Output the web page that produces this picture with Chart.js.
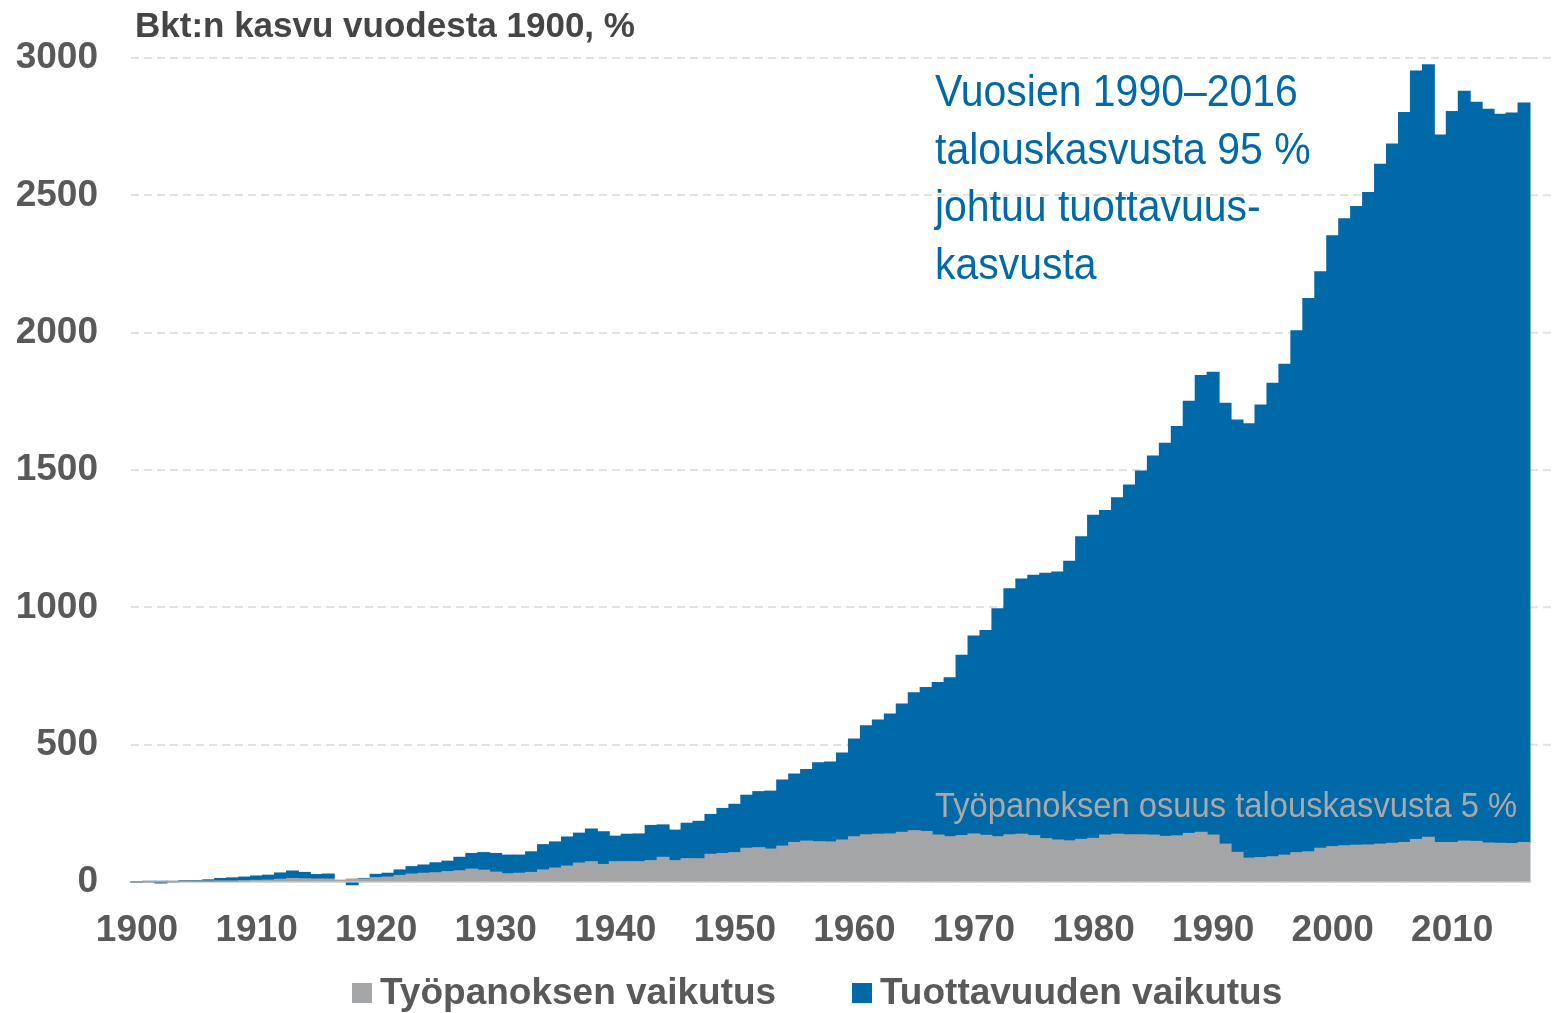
<!DOCTYPE html>
<html lang="fi">
<head>
<meta charset="utf-8">
<title>Bkt:n kasvu vuodesta 1900</title>
<script src="https://cdn.jsdelivr.net/npm/chart.js@4.4.1/dist/chart.umd.min.js"></script>
<style>
  html, body { margin: 0; padding: 0; background: #fff; }
  #wrap { width: 1552px; height: 1013px; }
</style>
</head>
<body>
<div id="wrap"><canvas id="kasvuChart" width="1552" height="1013"></canvas></div>
<script>
// vuodet 1900-2016 (luokat)
const years = [];
for (let y = 1900; y <= 2016; y++) years.push(String(y));

// näytettävät akselitekstit
const xTickLabels = ['1900', '1910', '1920', '1930', '1940', '1950', '1960', '1970', '1980', '1990', '2000', '2010'];
const yTickValues = [0, 500, 1000, 1500, 2000, 2500, 3000];

// työpanoksen vaikutus, %-yks. (luettu kuvasta)
const tyopanos = [
  0, 1, 1, 1, 2, 3, 3, 4, 4, 5,                       // 1900-
  6, 7, 10, 13, 12, 11, 11, 6, 11, 11,                // 1910-
  16, 18, 24, 29, 32, 34, 38, 41, 47, 43,             // 1920-
  36, 30, 32, 35, 44, 51, 58, 69, 74, 64,             // 1930-
  74, 74, 74, 78, 90, 78, 85, 85, 101, 104,           // 1940-
  107, 123, 125, 120, 131, 144, 149, 147, 146, 153,   // 1950-
  165, 172, 174, 175, 181, 187, 184, 171, 165, 169,   // 1960-
  175, 170, 165, 172, 174, 169, 158, 153, 150, 155,   // 1970-
  159, 171, 174, 172, 172, 171, 166, 168, 177, 181,   // 1980-
  171, 138, 108, 87, 89, 92, 98, 107, 110, 123,       // 1990-
  129, 132, 134, 135, 138, 141, 144, 155, 163, 144,   // 2000-
  144, 149, 148, 142, 141, 140, 144                   // 2010-2016
];

// tuottavuuden vaikutus, %-yks.
const tuottavuus = [
  0, 0, -3, 0, 3, 2, 5, 9, 11, 13,
  16, 18, 23, 27, 23, 16, 18, 0, -10, 2,
  12, 14, 20, 27, 30, 36, 38, 49, 57, 64,
  68, 68, 66, 75, 92, 95, 106, 109, 119, 119,
  93, 100, 101, 128, 118, 111, 129, 136, 145, 164,
  176, 193, 204, 211, 240, 249, 261, 287, 291, 317,
  356, 397, 416, 437, 467, 502, 524, 555, 579, 657,
  721, 746, 830, 896, 929, 948, 966, 976, 1018, 1102,
  1176, 1182, 1225, 1273, 1324, 1380, 1431, 1490, 1573, 1663,
  1685, 1605, 1574, 1581, 1648, 1724, 1787, 1900, 2014, 2099,
  2224, 2283, 2325, 2375, 2475, 2546, 2658, 2798, 2812, 2576,
  2661, 2730, 2691, 2671, 2654, 2660, 2692
];

const otsikko = 'Bkt:n kasvu vuodesta 1900, %';
const huomioSininen = ['Vuosien 1990–2016', 'talouskasvusta 95 %', 'johtuu tuottavuus-', 'kasvusta'];
const huomioHarmaa = 'Työpanoksen osuus talouskasvusta 5 %';

const SININEN = '#0069a8';
const HARMAA = '#a4a5a7';
const TEKSTI = '#595959';
const FONTTI = '"Liberation Sans", Arial, sans-serif';

// tekstit, selite ja ruudukon jatke
const tekstit = {
    id: 'tekstit',
    beforeDatasetsDraw(chart) {
        const ctx = chart.ctx;
        const area = chart.chartArea;
        const ys = chart.scales.y;
        ctx.save();
        ctx.strokeStyle = '#e2e2e2';
        ctx.lineWidth = 2;
        ctx.setLineDash([8, 5]);
        yTickValues.forEach(v => {
            if (v === 0) return;
            const py = ys.getPixelForValue(v);
            ctx.beginPath();
            ctx.moveTo(area.right, py);
            ctx.lineTo(chart.width, py);
            ctx.stroke();
        });
        ctx.restore();
    },
    afterDraw(chart) {
        const ctx = chart.ctx;
        ctx.save();
        // otsikko
        ctx.fillStyle = '#454545';
        ctx.font = 'bold 35px ' + FONTTI;
        ctx.textBaseline = 'alphabetic';
        ctx.textAlign = 'left';
        ctx.fillText(otsikko, 135, 37);

        // sininen huomio, kapeampi fontti
        ctx.fillStyle = SININEN;
        ctx.font = '45px ' + FONTTI;
        huomioSininen.forEach((rivi, i) => {
            ctx.save();
            ctx.translate(935, 106 + i * 57.5);
            ctx.scale(0.91, 1);
            ctx.fillText(rivi, 0, 0);
            ctx.restore();
        });

        // harmaa huomio
        ctx.fillStyle = '#a9a9a9';
        ctx.font = '35px ' + FONTTI;
        ctx.save();
        ctx.translate(935, 817);
        ctx.scale(0.935, 1);
        ctx.fillText(huomioHarmaa, 0, 0);
        ctx.restore();

        // selite
        const paikat = [352, 852];
        ctx.font = 'bold 37px ' + FONTTI;
        ctx.textBaseline = 'middle';
        chart.data.datasets.forEach((ds, i) => {
            ctx.fillStyle = ds.backgroundColor;
            ctx.fillRect(paikat[i], 983, 20, 20);
            ctx.fillStyle = TEKSTI;
            ctx.fillText(ds.label, paikat[i] + 28, 994);
        });
        ctx.restore();
    }
};

const ctx = document.getElementById('kasvuChart').getContext('2d');
new Chart(ctx, {
    type: 'bar',
    data: {
        labels: years,
        datasets: [
            {
                label: 'Työpanoksen vaikutus',
                data: tyopanos,
                backgroundColor: HARMAA,
                borderWidth: 0,
                inflateAmount: 0.5,
                clip: false
            },
            {
                label: 'Tuottavuuden vaikutus',
                data: tuottavuus,
                backgroundColor: SININEN,
                borderWidth: 0,
                inflateAmount: 0.5,
                clip: false
            }
        ]
    },
    options: {
        responsive: false,
        animation: false,
        barPercentage: 1,
        categoryPercentage: 1,
        layout: { padding: { top: 58, right: 22, left: 0, bottom: 0 } },
        plugins: {
            legend: { display: false },
            tooltip: { enabled: false },
            title: { display: false }
        },
        scales: {
            x: {
                stacked: true,
                offset: true,
                grid: { display: false },
                border: { display: true, color: '#d9d9d9', width: 2 },
                ticks: {
                    autoSkip: false,
                    maxRotation: 0,
                    minRotation: 0,
                    padding: 19,
                    color: TEKSTI,
                    font: { family: FONTTI, size: 37, weight: 'bold' },
                    callback: function (value) {
                        const l = this.getLabelForValue(value);
                        return xTickLabels.includes(l) ? l : '';
                    }
                },
                afterFit(scale) { scale.height = 131; }
            },
            y: {
                stacked: true,
                min: 0,
                max: 3000,
                grid: { color: '#e2e2e2', lineWidth: 2, drawTicks: false },
                border: { display: false, dash: [8, 5] },
                ticks: {
                    stepSize: 500,
                    padding: 33,
                    color: TEKSTI,
                    font: { family: FONTTI, size: 37, weight: 'bold' },
                    callback: value => String(value)
                },
                afterFit(scale) { scale.width = 131; }
            }
        }
    },
    plugins: [tekstit]
});
</script>
</body>
</html>
